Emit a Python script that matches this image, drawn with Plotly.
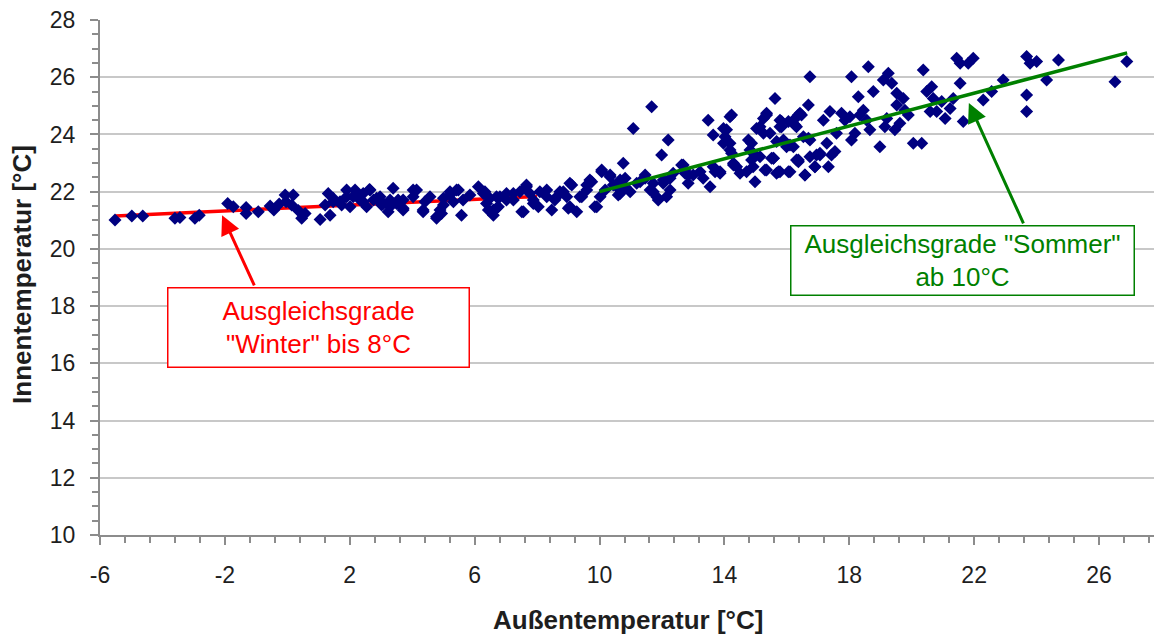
import plotly.graph_objects as go

# Outdoor temperature (x) and indoor temperature (y), daily means
aussen = [
    -5.52, -4.98, -4.63, -3.60, -3.44, -2.96, -2.82, -1.91, -1.73, -1.32, -1.32, -0.93, -0.55, -0.43,
    -0.26, -0.07, 0.19, -0.04, 0.14, 0.35, 0.46, 0.57, 1.05, 1.37, 1.31, 1.21, 1.47, 1.69, 1.90, 2.01,
    2.11, 2.17, 2.33, 2.43, 2.63, 2.76, 2.97, 3.02, 3.23, 3.29, 3.39, 3.50,
    1.47, 1.74, 1.90, 2.22, 2.43, 2.65, 2.54, 2.86, 3.07, 3.29, 3.55,
    3.71, 4.03, 4.14, 4.35, 4.41, 4.57, 4.78, 4.89, 5.00, 5.21, 5.42, 5.58, 5.63, 5.85, 6.12, 6.28,
    6.38, 6.60, 6.70,
    3.71, 3.71, 4.03, 4.35, 4.78, 4.94, 5.00, 5.21, 5.48, 5.32, 6.33, 6.49, 6.70, 6.81, 6.44,
    7.02, 7.24, 7.45, 7.56, 7.66, 7.77, 7.88, 8.09, 8.31, 8.47, 8.57, 8.73, 8.95, 9.05, 9.11, 9.27, 9.43,
    6.60, 6.76, 7.02, 7.24, 7.51, 7.66, 7.88, 8.04, 8.31, 8.63, 8.84, 9.00, 9.05, 9.37, 9.59, 9.69, 9.85,
    9.59, 9.75, 9.91, 10.02, 10.07, 10.18, 10.34, 10.44, 10.66, 10.60, 10.76, 10.82, 10.98, 11.08,
    11.30, 11.46, 11.67, 11.72, 11.88, 11.99, 12.04, 12.15, 12.20, 12.26, 12.36, 12.68, 12.74, 12.84,
    13.00, 13.22, 13.32, 13.48, 13.54, 13.64, 13.70, 13.86, 13.97, 14.02, 14.18, 14.18, 14.23, 14.29,
    14.50, 14.77, 14.82, 14.87, 14.92, 14.98, 15.03, 15.25, 15.25, 15.35, 15.35, 15.51, 15.62, 15.67,
    15.78, 15.89, 16.05, 16.10, 16.21, 16.31, 16.37,
    10.07, 10.34, 10.55, 10.66, 10.82, 11.19, 11.46, 11.62, 11.72, 11.83, 12.04, 12.26, 12.63, 12.74,
    12.84, 13.64, 13.86, 13.97, 14.07, 14.18, 14.23, 14.29, 14.39, 14.71, 14.87, 14.92, 15.14, 15.35,
    15.46, 15.57, 15.67, 15.78, 15.83, 15.99, 16.26, 16.37, 16.47, 16.58, 16.74, 16.90, 17.06,
    15.14, 15.30, 15.57, 15.73, 15.78, 15.83, 16.05, 16.10, 16.21, 16.31, 16.37, 16.42, 16.53, 16.58,
    16.69, 16.69, 16.74, 16.74, 16.90, 16.95, 17.06, 17.17, 17.28, 17.33, 17.38, 17.43, 17.54, 17.59,
    17.75, 17.86, 18.02, 18.07, 18.07, 18.18, 18.29, 18.34, 18.45, 18.61, 18.56, 18.66, 18.77, 18.98,
    19.09, 19.14, 19.20, 19.25, 19.36, 19.46, 19.52, 19.52, 19.62, 19.73, 19.78, 19.89, 20.05, 20.32,
    20.37, 20.48, 20.59, 20.64, 20.69, 20.80, 20.96, 21.07, 21.23, 21.33, 21.44, 21.55, 21.55, 21.65,
    21.81, 21.97, 22.29, 22.56, 22.93, 23.68, 23.68, 23.68, 23.79, 24.00, 24.32, 24.70, 26.51, 26.89,
]
innen = [
    21.01, 21.15, 21.15, 21.07, 21.10, 21.07, 21.18, 21.59, 21.47, 21.45, 21.24, 21.30, 21.50, 21.36,
    21.57, 21.88, 21.88, 21.65, 21.53, 21.34, 21.07, 21.24, 21.03, 21.18, 21.94, 21.53, 21.77, 21.65, 22.06, 21.47,
    21.82, 22.06, 21.71, 21.94, 22.08, 21.71, 21.82, 21.53, 21.30, 21.71, 22.12, 21.59,
    21.65, 21.53, 21.82, 21.94, 21.65, 22.06, 21.47, 21.77, 21.59, 21.47, 21.71,
    21.36, 21.82, 22.06, 21.36, 21.65, 21.82, 21.12, 21.36, 21.53, 21.88, 22.06, 21.18, 21.71, 21.88, 22.17, 21.94,
    21.59, 21.36, 21.82,
    21.71, 21.42, 22.06, 21.30, 21.07, 21.24, 21.77, 22.00, 22.06, 21.65, 22.00, 21.77, 21.42, 21.82, 21.36,
    21.94, 21.71, 22.00, 21.30, 22.23, 21.94, 21.59, 22.00, 21.82, 21.36, 21.71, 22.00, 21.82, 21.47, 22.23, 21.30, 21.82,
    21.18, 21.47, 21.71, 21.94, 21.30, 22.17, 21.71, 21.47, 22.06, 21.82, 22.00, 21.42, 22.29, 21.82, 22.23, 22.41, 21.47,
    22.06, 22.35, 21.47, 21.82, 22.70, 22.06, 22.58, 22.23, 22.41, 21.88, 22.99, 22.17, 22.00, 24.21,
    22.35, 22.47, 24.97, 22.00, 21.71, 23.28, 22.29, 21.82, 23.81, 22.47, 22.64, 22.93, 22.64, 22.29,
    22.58, 22.70, 22.47, 24.50, 22.17, 23.98, 22.70, 22.64, 24.21, 23.92, 24.62, 23.69, 23.34, 22.93,
    22.64, 23.81, 23.46, 23.11, 22.87, 22.35, 24.21, 24.56, 24.04, 24.74, 22.76, 23.17, 25.26, 22.64,
    24.27, 23.81, 24.45, 22.70, 23.57, 23.11, 24.68,
    22.76, 22.52, 22.17, 21.94, 22.47, 22.29, 22.58, 22.06, 22.29, 21.82, 22.41, 22.06, 22.93, 22.76,
    22.58, 22.87, 22.70, 23.69, 24.16, 23.46, 24.68, 22.99, 22.87, 22.70, 23.69, 23.34, 24.27, 24.68,
    24.04, 23.17, 23.75, 22.70, 24.45, 23.57, 24.33, 23.11, 24.68, 22.58, 23.81, 22.87, 23.28,
    23.22, 22.76, 23.17, 22.70, 24.50, 24.27, 22.70, 23.63, 24.50, 24.27, 23.05, 24.74, 23.92, 22.58,
    25.03, 23.87, 26.02, 23.22, 22.87, 23.28, 23.34, 24.50, 23.69, 22.87, 24.80, 23.28, 23.40, 24.04,
    24.74, 24.50, 24.62, 23.81, 26.02, 24.04, 25.32, 24.68, 24.85, 26.37, 24.50, 24.16, 25.50, 23.57,
    25.90, 24.27, 24.56, 26.14, 25.79, 24.16, 25.44, 25.03, 24.39, 25.26, 24.85, 24.68, 23.69, 23.69,
    26.25, 25.50, 24.80, 25.67, 25.26, 24.80, 25.15, 24.56, 24.91, 25.26, 26.66, 26.49, 25.79, 24.45,
    26.49, 26.66, 25.20, 25.50, 25.90, 26.72, 25.38, 24.80, 26.49, 26.55, 25.90, 26.60, 25.84, 26.55,
]

# Regression lines (end points)
winter_x = [-5.5, 8.0]
winter_y = [21.15, 21.83]
sommer_x = [10.0, 26.9]
sommer_y = [22.0, 26.85]

x_ticks = [-6, -2, 2, 6, 10, 14, 18, 22, 26]
y_ticks = [10, 12, 14, 16, 18, 20, 22, 24, 26, 28]

FONT = "Liberation Sans, Arial, sans-serif"
RED = "#ff0000"
GREEN = "#008000"
NAVY = "#000080"

fig = go.Figure()
fig.add_trace(go.Scatter(x=winter_x, y=winter_y, mode="lines",
                         line=dict(color=RED, width=3.5), hoverinfo="skip", showlegend=False))
fig.add_trace(go.Scatter(x=aussen, y=innen, mode="markers",
                         marker=dict(symbol="diamond", size=10, color=NAVY, line=dict(width=0)),
                         showlegend=False))
fig.add_trace(go.Scatter(x=sommer_x, y=sommer_y, mode="lines",
                         line=dict(color=GREEN, width=3.5), hoverinfo="skip", showlegend=False))

axis_common = dict(
    showline=True, linecolor="#8c8c8c", linewidth=2,
    ticks="outside", tickcolor="#8c8c8c", tickwidth=2, ticklen=8,
    tickfont=dict(family=FONT, size=23, color="#1e1e1e"),
    zeroline=False,
)

fig.update_xaxes(
    range=[-6, 27.76], tickmode="array", tickvals=x_ticks, ticktext=[str(v) for v in x_ticks],
    showgrid=False, ticklabelstandoff=10,
    minor=dict(tick0=-6, dtick=0.8, ticks="outside", ticklen=6, tickcolor="#8c8c8c", tickwidth=2, showgrid=False),
    **axis_common,
)
fig.update_yaxes(
    range=[10, 28], tickmode="array", tickvals=y_ticks, ticktext=[str(v) for v in y_ticks],
    showgrid=True, gridcolor="#c8c8c8", gridwidth=2, ticklabelstandoff=10,
    minor=dict(tick0=10, dtick=0.5, ticks="outside", ticklen=6, tickcolor="#8c8c8c", tickwidth=2, showgrid=False),
    **axis_common,
)

annotations = [
    # axis titles
    dict(text="<b>Außentemperatur [°C]</b>", xref="paper", yref="paper", x=0.501, y=-0.165,
         xanchor="center", yanchor="middle", showarrow=False,
         font=dict(family=FONT, size=26, color="#1e1e1e")),
    dict(text="<b>Innentemperatur [°C]</b>", xref="paper", yref="paper", x=-0.074, y=0.505,
         xanchor="center", yanchor="middle", showarrow=False, textangle=-90,
         font=dict(family=FONT, size=26, color="#1e1e1e")),
    # label boxes
    dict(text="Ausgleichsgrade<br>\"Winter\" bis 8°C", xref="x", yref="y", x=1.01, y=17.27,
         xanchor="center", yanchor="middle", showarrow=False, width=296, height=74,
         bordercolor=RED, borderwidth=1.5, borderpad=2, bgcolor="white",
         font=dict(family=FONT, size=26, color=RED)),
    dict(text="Ausgleichsgrade \"Sommer\"<br>ab 10°C", xref="x", yref="y", x=21.63, y=19.61,
         xanchor="center", yanchor="middle", showarrow=False, width=338, height=64,
         bordercolor=GREEN, borderwidth=1.5, borderpad=2, bgcolor="white",
         font=dict(family=FONT, size=26, color=GREEN)),
    # arrows
    dict(text="", xref="x", yref="y", axref="x", ayref="y",
         x=-2.09, y=21.18, ax=-1.035, ay=18.67, showarrow=True,
         arrowhead=2, arrowsize=1.3, arrowwidth=3, arrowcolor=RED),
    dict(text="", xref="x", yref="y", axref="x", ayref="y",
         x=21.83, y=25.1, ax=23.6, ay=20.84, showarrow=True,
         arrowhead=2, arrowsize=1.3, arrowwidth=3, arrowcolor=GREEN),
]

fig.update_layout(
    width=1154, height=634,
    margin=dict(l=100, r=0, t=20, b=99, pad=0),
    plot_bgcolor="white", paper_bgcolor="white",
    annotations=annotations,
    showlegend=False,
    font=dict(family=FONT),
)

fig.write_html(
    "out.html",
    config={"displayModeBar": False},
    post_script="document.body.style.margin='0';document.body.style.overflow='hidden';",
)
